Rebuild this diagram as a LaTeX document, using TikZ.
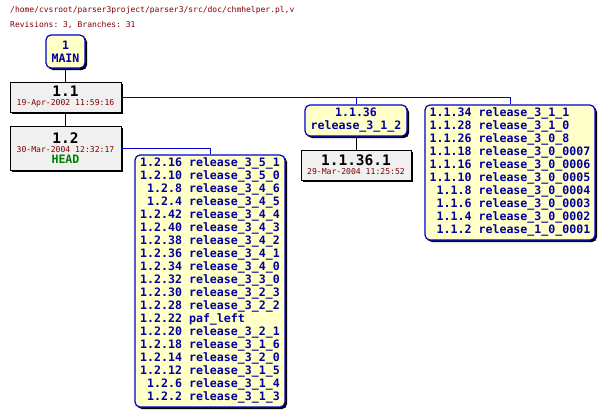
\documentclass[tikz,border=0pt]{standalone}
\usepackage{fontspec}
\setmonofont{DejaVu Sans Mono}
\usetikzlibrary{shadows}
\definecolor{rcsred}{HTML}{800000}
\definecolor{rcsblue}{HTML}{0000A0}
\definecolor{rcsline}{HTML}{0000CC}
\definecolor{rcsyellow}{HTML}{FFFFC8}
\definecolor{rcsgray}{HTML}{F0F0F0}
\definecolor{rcsgreen}{HTML}{008000}
\newcommand{\revbig}{\fontsize{14.5}{15}\selectfont\bfseries}
\newcommand{\revdate}{\fontsize{8.1}{9}\selectfont\mdseries\color{rcsred}}
\newcommand{\revtag}{\fontsize{11.6}{13}\selectfont\bfseries}
\begin{document}
\begin{tikzpicture}[x=1pt,y=-1pt,
  font=\ttfamily,
  shadowed/.style={drop shadow={shadow xshift=2pt,shadow yshift=-2pt,fill=black,opacity=1}},
  ybox/.style={shadowed,draw=rcsline,line width=1.2pt,fill=rcsyellow,rounded corners=5pt,
    inner sep=0pt,text=rcsblue,align=center,font=\ttfamily\revtag},
  gbox/.style={shadowed,draw=black,line width=1pt,fill=rcsgray,inner sep=0pt,align=center},
  trunk/.style={draw=black,line width=1pt},
  branch/.style={draw=rcsline,line width=1pt},
  title/.style={anchor=west,inner sep=0pt,text=rcsred,font=\ttfamily\fontsize{8}{9}\selectfont}]
\useasboundingbox (0,0) rectangle (606,418);

\node[title] (t1) at (10,10) {/home/cvsroot/parser3project/parser3/src/doc/chmhelper.pl,v};
\node[title] (t2) at (10,25) {Revisions: 3, Branches: 31};

% connectors first (behind boxes)
\coordinate (c11) at (65.5,97);
\coordinate (c12) at (65.5,148);
\coordinate (c136) at (356,120.5);
\coordinate (c1361) at (356,165);
\coordinate (cb3) at (510,172.5);
\coordinate (cb2) at (210,281);

\node[ybox,minimum width=39pt,minimum height=33pt] (main) at (65.5,51.5) {1\\MAIN};
\node[gbox,minimum width=111pt,minimum height=30pt] (n11) at (c11)
  {\revbig 1.1\\[-3pt]\revdate 19-Apr-2002 11:59:16};
\node[gbox,minimum width=111pt,minimum height=44pt] (n12) at (c12)
  {\revbig 1.2\\[-3pt]\revdate 30-Mar-2004 12:32:17\\[-1pt]{\revtag\color{rcsgreen}HEAD}};
\node[ybox,minimum width=102pt,minimum height=31pt] (b136) at (c136) {1.1.36\\release\_3\_1\_2};
\node[gbox,minimum width=110pt,minimum height=30pt] (n1361) at (c1361)
  {\revbig 1.1.36.1\\[-3pt]\revdate 29-Mar-2004 11:25:52};
\node[ybox,minimum width=170pt,minimum height=135pt] (b3) at (cb3) {%
  \begin{tabular}{@{}r@{ }l@{}}
  1.1.34 & release\_3\_1\_1\\
  1.1.28 & release\_3\_1\_0\\
  1.1.26 & release\_3\_0\_8\\
  1.1.18 & release\_3\_0\_0007\\
  1.1.16 & release\_3\_0\_0006\\
  1.1.10 & release\_3\_0\_0005\\
  1.1.8 & release\_3\_0\_0004\\
  1.1.6 & release\_3\_0\_0003\\
  1.1.4 & release\_3\_0\_0002\\
  1.1.2 & release\_1\_0\_0001
  \end{tabular}};
\node[ybox,minimum width=150pt,minimum height=252pt] (b2) at (cb2) {%
  \begin{tabular}{@{}r@{ }l@{}}
  1.2.16 & release\_3\_5\_1\\
  1.2.10 & release\_3\_5\_0\\
  1.2.8 & release\_3\_4\_6\\
  1.2.4 & release\_3\_4\_5\\
  1.2.42 & release\_3\_4\_4\\
  1.2.40 & release\_3\_4\_3\\
  1.2.38 & release\_3\_4\_2\\
  1.2.36 & release\_3\_4\_1\\
  1.2.34 & release\_3\_4\_0\\
  1.2.32 & release\_3\_3\_0\\
  1.2.30 & release\_3\_2\_3\\
  1.2.28 & release\_3\_2\_2\\
  1.2.22 & paf\_left\\
  1.2.20 & release\_3\_2\_1\\
  1.2.18 & release\_3\_1\_6\\
  1.2.14 & release\_3\_2\_0\\
  1.2.12 & release\_3\_1\_5\\
  1.2.6 & release\_3\_1\_4\\
  1.2.2 & release\_3\_1\_3
  \end{tabular}};

\draw[trunk] (main.south) -- (n11.north);
\draw[trunk] (n11.south) -- (n12.north);
\draw[trunk] (b136.south) -- (n1361.north);
\draw[branch] (n11.east) -| (b136.north);
\draw[branch] (n11.east) -| (b3.north);
\draw[branch] (n12.east) -| (b2.north);
\end{tikzpicture}
\end{document}
